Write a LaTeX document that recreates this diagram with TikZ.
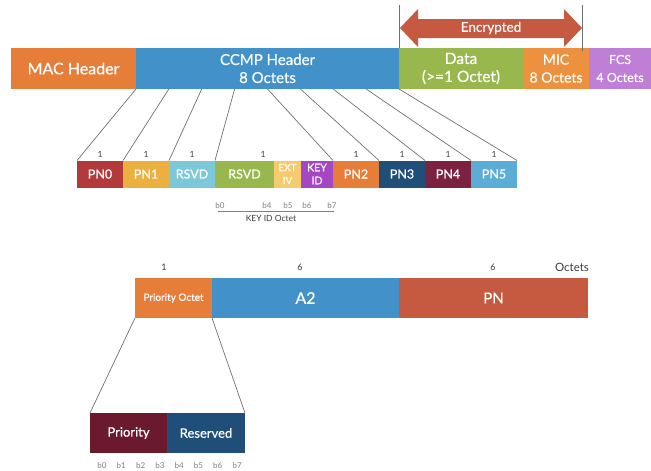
\documentclass[tikz,border=0pt]{standalone}
\usepackage{fontspec}
\setmainfont{Lato}
\newfontfamily\boxfont{Lato}[FakeBold=0.5]
\usetikzlibrary{calc}

\definecolor{macorange}{HTML}{E67E3A}
\definecolor{ccmpblue}{HTML}{4292C9}
\definecolor{datagreen}{HTML}{98B84E}
\definecolor{micorange}{HTML}{EE913F}
\definecolor{fcspurple}{HTML}{C07FD6}
\definecolor{encred}{HTML}{C55A40}
\definecolor{pnred}{HTML}{B23A3A}
\definecolor{pngold}{HTML}{EBB040}
\definecolor{rsvdcyan}{HTML}{7DC8D8}
\definecolor{extgold}{HTML}{F5CB6E}
\definecolor{keypurple}{HTML}{A347C2}
\definecolor{navy}{HTML}{1F4E79}
\definecolor{maroon}{HTML}{7C2241}
\definecolor{skyblue}{HTML}{5BADD8}
\definecolor{wine}{HTML}{6B1A2E}
\definecolor{linegray}{HTML}{707070}
\definecolor{labelgray}{HTML}{3C3C3C}

\newcommand\fsz[2]{\boxfont\fontsize{#1}{#2}\selectfont}
\newcommand\lsz[2]{\fontsize{#1}{#2}\selectfont}

\begin{document}
\begin{tikzpicture}[x=1pt,y=-1pt,
  field/.style={draw=none, inner sep=0pt, outer sep=0pt, text=white,
                align=center, anchor=north west},
  link/.style={draw=linegray, line width=0.7pt},
  count/.style={text=labelgray, font=\lsz{8.5}{10}, inner sep=0pt},
  bitlbl/.style={text=gray, font=\lsz{8}{10}, inner sep=0pt}]

\useasboundingbox (0,0) rectangle (651,471);

% ---- frame ----
\node[field, fill=macorange,  minimum width=125pt, minimum height=41pt, font=\fsz{16}{18}] (mac)  at (11,48)  {MAC Header};
\node[field, fill=ccmpblue,   minimum width=263pt, minimum height=41pt, font=\fsz{15}{18}] (ccmp) at (136,48) {CCMP Header\\8 Octets};
\node[field, fill=datagreen,  minimum width=124pt, minimum height=41pt, font=\fsz{15.5}{18}] (data) at (399,48) {Data\\(>=1 Octet)};
\node[field, fill=micorange,  minimum width=66pt,  minimum height=41pt, font=\fsz{14}{18}] (mic)  at (523,48) {MIC\\8 Octets};
\node[field, fill=fcspurple,  minimum width=62pt,  minimum height=41pt, font=\fsz{12.5}{18}] (fcs)  at (589,48) {FCS\\4 Octets};

% ---- encrypted span ----
\coordinate (encL) at (399,5);
\coordinate (encR) at (582,5);
\coordinate (encRb) at (582,51);
\fill[encred] (400,28) -- (418,9) -- (418,19) -- (564,19) -- (564,9) -- (582,28)
  -- (564,47) -- (564,38) -- (418,38) -- (418,47) -- cycle;
\draw[link] (encL) -- (data.north west);
\draw[link] (encR) -- (encRb);
\node[text=white, font=\fsz{13.5}{16}, inner sep=0pt] (enc) at (491,28) {Encrypted};

% ---- CCMP header fields ----
\node[field, fill=pnred,     minimum width=46pt, minimum height=27pt, font=\fsz{12.5}{14}] (pn0)  at (77,160.5)  {PN0};
\node[field, fill=pngold,    minimum width=46pt, minimum height=27pt, font=\fsz{12.5}{14}] (pn1)  at (123,160.5) {PN1};
\node[field, fill=rsvdcyan,  minimum width=46pt, minimum height=27pt, font=\fsz{12.5}{14}] (rs1)  at (169,160.5) {RSVD};
\node[field, fill=datagreen, minimum width=59pt, minimum height=27pt, font=\fsz{12.5}{14}] (rs2)  at (215,160.5) {RSVD};
\node[field, fill=extgold,   minimum width=27pt, minimum height=27pt, font=\fsz{10}{13}]   (ext)  at (274,160.5) {EXT\\IV};
\node[field, fill=keypurple, minimum width=32pt, minimum height=27pt, font=\fsz{10.5}{13}] (key)  at (301,160.5) {KEY\\ID};
\node[field, fill=macorange, minimum width=46pt, minimum height=27pt, font=\fsz{12.5}{14}] (pn2)  at (333,160.5) {PN2};
\node[field, fill=navy,      minimum width=46pt, minimum height=27pt, font=\fsz{12.5}{14}] (pn3)  at (379,160.5) {PN3};
\node[field, fill=maroon,    minimum width=46pt, minimum height=27pt, font=\fsz{12.5}{14}] (pn4)  at (425,160.5) {PN4};
\node[field, fill=skyblue,   minimum width=46pt, minimum height=27pt, font=\fsz{12.5}{14}] (pn5)  at (471,160.5) {PN5};

% octet counts
\foreach \n in {pn0,pn1,rs1,pn2,pn3,pn4,pn5}
  \node[count] (c\n) at ($(\n.north)+(0,-6.5)$) {1};
\node[count] (crs) at (263,154) {1};

% fan-out from the CCMP header
\foreach \i/\t in {0/pn0.north west, 1/pn1.north west, 2/rs1.north west,
                   3/rs2.north west, 4/pn2.north west, 5/pn3.north west,
                   6/pn4.north west, 7/pn5.north west, 8/pn5.north east}{
  \coordinate (cs\i) at ($(ccmp.south west)!\i/8!(ccmp.south east)$);
  \draw[link] (cs\i) -- (\t);
}

% key id octet bits
\node[bitlbl] (kb0) at (220,206) {b0};
\node[bitlbl] (kb4) at (267,206) {b4};
\node[bitlbl] (kb5) at (288,206) {b5};
\node[bitlbl] (kb6) at (307,206) {b6};
\node[bitlbl] (kb7) at (332,206) {b7};
\coordinate (kl) at (218,211);
\coordinate (kr) at (334,211);
\draw[draw=gray, line width=0.6pt] (kl) -- (kr);
\node[text=labelgray, font=\lsz{8.5}{10}, inner sep=0pt] (kid) at (271,218.5) {KEY ID Octet};

% ---- nonce ----
\node[field, fill=macorange, minimum width=77pt,  minimum height=40pt, font=\fsz{10}{12}] (prio) at (135,278) {Priority Octet};
\node[field, fill=ccmpblue,  minimum width=187pt, minimum height=40pt, font=\fsz{16}{18}] (a2)   at (212,278) {A2};
\node[field, fill=encred,    minimum width=189pt, minimum height=40pt, font=\fsz{15}{18}] (pn)   at (399,278) {PN};
\node[count, font=\lsz{9}{11}] (cprio) at (164,267) {1};
\node[count, font=\lsz{9}{11}] (ca2)   at (300,267) {6};
\node[count, font=\lsz{9}{11}] (cpn)   at (493,267) {6};
\node[text=labelgray, font=\lsz{11.5}{13}, inner sep=0pt] (oct) at (572,267) {Octets};

% ---- priority octet ----
\node[field, fill=wine, minimum width=77pt, minimum height=40pt, font=\fsz{13}{15}] (pri) at (90,413)  {Priority};
\node[field, fill=navy, minimum width=78pt, minimum height=40pt, font=\fsz{13}{15}] (res) at (167,413) {Reserved};
\draw[link] (prio.south west) -- (pri.north west);
\draw[link] (prio.south east) -- (res.north east);
\foreach \i in {0,...,7}
  \node[bitlbl] (pb\i) at ({102+19.3*\i},466) {b\i};

\end{tikzpicture}
\end{document}
